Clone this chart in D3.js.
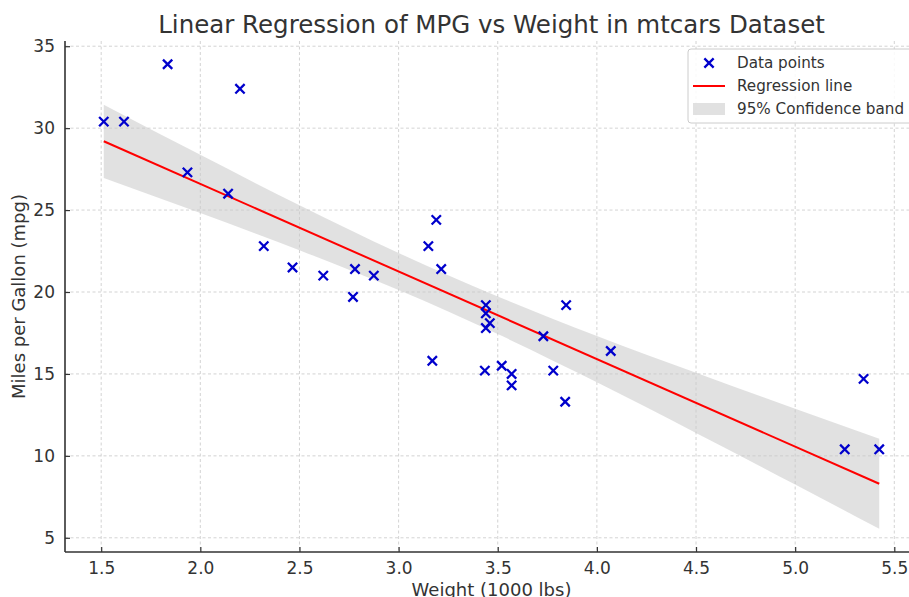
<!DOCTYPE html>
<html>
<head>
<meta charset="utf-8">
<script src="https://cdn.jsdelivr.net/npm/d3@7"></script>
<style>
  body { margin: 0; background: #fff; }
  svg { display: block; font-family: "DejaVu Sans", sans-serif; }
</style>
</head>
<body>
<div id="chart"></div>
<script>
// DATA ***********************************************
// mtcars: weight (1000 lbs) and mpg
var weights = [2.620, 2.875, 2.320, 3.215, 3.440, 3.460, 3.570, 3.190, 3.150, 3.440, 3.440,
  4.070, 3.730, 3.780, 5.250, 5.424, 5.345, 2.200, 1.615, 1.835, 2.465, 3.520, 3.435,
  3.840, 3.845, 1.935, 2.140, 1.513, 3.170, 2.770, 3.570, 2.780];
var mpgs = [21.0, 21.0, 22.8, 21.4, 18.7, 18.1, 14.3, 24.4, 22.8, 19.2, 17.8,
  16.4, 17.3, 15.2, 10.4, 10.4, 14.7, 32.4, 30.4, 33.9, 21.5, 15.5, 15.2,
  13.3, 19.2, 27.3, 26.0, 30.4, 15.8, 19.7, 15.0, 21.4];

// confidence band
var bandX = [1.513, 2.0, 2.5, 3.0, 3.5, 4.0, 4.5, 5.0, 5.424];
var bandLow = [26.96, 24.82, 22.55, 20.12, 17.43, 14.49, 11.40, 8.25, 5.55];
var bandHigh = [31.43, 28.37, 25.29, 22.38, 19.73, 17.32, 15.07, 12.88, 11.05];

var xTicks = [1.5, 2.0, 2.5, 3.0, 3.5, 4.0, 4.5, 5.0, 5.5];
var yTicks = [5, 10, 15, 20, 25, 30, 35];
var legendLabels = ["Data points", "Regression line", "95% Confidence band"];

// SETUP ***********************************************
var width = 909, height = 597;
var mLeft = 65, mRight = 918, mTop = 41, mBottom = 552;
var textColor = "#333333";

var svg = d3.select("#chart").append("svg")
  .attr("width", width)
  .attr("height", height);

var x = d3.scaleLinear().domain([1.3175, 5.6195]).range([mLeft, mRight]);
var y = d3.scaleLinear().domain([4.133, 35.318]).range([mBottom, mTop]);

// least squares fit
var mx = d3.mean(weights), my = d3.mean(mpgs);
var sxy = d3.sum(weights, function (w, i) { return (w - mx) * (mpgs[i] - my); });
var sxx = d3.sum(weights, function (w) { return (w - mx) * (w - mx); });
var slope = sxy / sxx;
var intercept = my - slope * mx;
var xExt = d3.extent(weights);

// grid
var grid = svg.append("g");
grid.selectAll(".gx").data(xTicks).enter().append("line")
  .attr("x1", function (d) { return x(d); })
  .attr("x2", function (d) { return x(d); })
  .attr("y1", mTop).attr("y2", mBottom)
  .attr("stroke", "#c8c8c8").attr("stroke-width", 0.8)
  .attr("stroke-dasharray", "3,2.5");
grid.selectAll(".gy").data(yTicks).enter().append("line")
  .attr("y1", function (d) { return y(d); })
  .attr("y2", function (d) { return y(d); })
  .attr("x1", mLeft).attr("x2", mRight)
  .attr("stroke", "#c8c8c8").attr("stroke-width", 0.8)
  .attr("stroke-dasharray", "3,2.5");

// band
var bandData = bandX.map(function (v, i) { return [v, bandLow[i], bandHigh[i]]; });
svg.append("path")
  .datum(bandData)
  .attr("fill", "#c8c8c8")
  .attr("fill-opacity", 0.55)
  .attr("d", d3.area()
    .x(function (d) { return x(d[0]); })
    .y0(function (d) { return y(d[1]); })
    .y1(function (d) { return y(d[2]); })
    .curve(d3.curveMonotoneX));

// regression line
svg.append("line")
  .attr("x1", x(xExt[0])).attr("y1", y(intercept + slope * xExt[0]))
  .attr("x2", x(xExt[1])).attr("y2", y(intercept + slope * xExt[1]))
  .attr("stroke", "#ff0000").attr("stroke-width", 2);

// points
var cross = d3.symbol().type(d3.symbolX).size(58);
svg.append("g").selectAll("path").data(weights).enter().append("path")
  .attr("transform", function (d, i) { return "translate(" + x(d) + "," + y(mpgs[i]) + ")"; })
  .attr("d", cross)
  .attr("stroke", "#0000cc").attr("stroke-width", 2.3).attr("fill", "none");

// axes
var xAxis = d3.axisBottom(x).tickValues(xTicks).tickSize(-5).tickPadding(10)
  .tickFormat(d3.format(".1f"));
var yAxis = d3.axisLeft(y).tickValues(yTicks).tickSize(-5).tickPadding(10);

var gx = svg.append("g").attr("transform", "translate(0," + mBottom + ")").call(xAxis);
var gy = svg.append("g").attr("transform", "translate(" + mLeft + ",0)").call(yAxis);
[gx, gy].forEach(function (g) {
  g.select(".domain").attr("stroke", textColor).attr("stroke-width", 1.6);
  g.selectAll(".tick line").attr("stroke", textColor).attr("stroke-width", 1.2);
  g.selectAll(".tick text").attr("fill", textColor).attr("font-size", 17)
    .attr("font-family", "DejaVu Sans");
});
gx.select(".domain").attr("d", "M" + mLeft + ",0H" + mRight);
gy.select(".domain").attr("d", "M0," + mBottom + "V" + mTop);

// title and labels
svg.append("text")
  .attr("x", (mLeft + mRight) / 2).attr("y", 33)
  .attr("text-anchor", "middle")
  .attr("font-size", 24.5).attr("fill", textColor)
  .text("Linear Regression of MPG vs Weight in mtcars Dataset");

svg.append("text")
  .attr("x", (mLeft + mRight) / 2).attr("y", 596)
  .attr("text-anchor", "middle")
  .attr("font-size", 18).attr("fill", textColor)
  .text("Weight (1000 lbs)");

svg.append("text")
  .attr("transform", "translate(25," + (mTop + mBottom) / 2 + ") rotate(-90)")
  .attr("text-anchor", "middle")
  .attr("font-size", 18).attr("fill", textColor)
  .text("Miles per Gallon (mpg)");

// legend
var legend = svg.append("g").attr("transform", "translate(688,49)");
legend.append("rect")
  .attr("width", 226).attr("height", 74)
  .attr("rx", 3).attr("ry", 3)
  .attr("fill", "#ffffff").attr("fill-opacity", 0.85)
  .attr("stroke", "#cccccc").attr("stroke-width", 1);

var rowY = [14, 37, 60];
legend.append("path")
  .attr("transform", "translate(21," + rowY[0] + ")")
  .attr("d", cross)
  .attr("stroke", "#0000cc").attr("stroke-width", 2.3).attr("fill", "none");
legend.append("line")
  .attr("x1", 5).attr("x2", 37).attr("y1", rowY[1]).attr("y2", rowY[1])
  .attr("stroke", "#ff0000").attr("stroke-width", 2);
legend.append("rect")
  .attr("x", 5).attr("y", rowY[2] - 6).attr("width", 32).attr("height", 12)
  .attr("fill", "#c8c8c8").attr("fill-opacity", 0.55);

legend.selectAll(".lt").data(legendLabels).enter().append("text")
  .attr("x", 49)
  .attr("y", function (d, i) { return rowY[i] + 5; })
  .attr("font-size", 15.2).attr("fill", textColor)
  .text(function (d) { return d; });
</script>
</body>
</html>
